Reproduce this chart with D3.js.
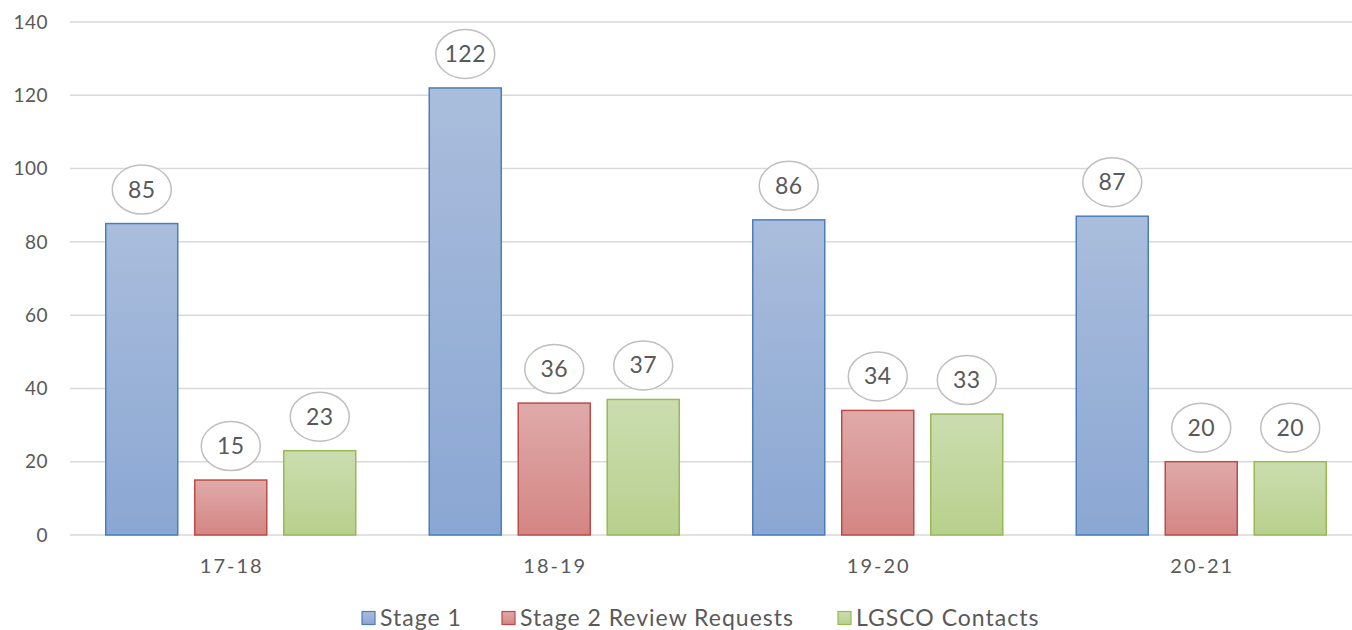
<!DOCTYPE html>
<html>
<head>
<meta charset="utf-8">
<script src="https://cdn.jsdelivr.net/npm/d3@7"></script>
<style>
  body { margin: 0; background: #fff; }
  svg text { font-family: "Lato", "Open Sans", sans-serif; fill: #595959; }
</style>
</head>
<body>
<div id="drawing"></div>
<script>
const width = 1352;
const height = 630;

// data
const categories = ["17-18", "18-19", "19-20", "20-21"];
const seriesNames = ["Stage 1", "Stage 2 Review Requests", "LGSCO Contacts"];
const stage1 = [85, 122, 86, 87];
const stage2 = [15, 36, 34, 20];
const lgsco = [23, 37, 33, 20];
const yTicks = [0, 20, 40, 60, 80, 100, 120, 140];

const seriesValues = [stage1, stage2, lgsco];
const fills = [
  {top: "#aabddc", bottom: "#8aa7d3", stroke: "#4a7ebb"},
  {top: "#dfaaa9", bottom: "#d48684", stroke: "#be4b48"},
  {top: "#cbddb0", bottom: "#b8d08d", stroke: "#98b954"}
];

const svg = d3.select("#drawing").append("svg")
  .attr("width", width)
  .attr("height", height);

const defs = svg.append("defs");
fills.forEach((f, i) => {
  const g = defs.append("linearGradient")
    .attr("id", "grad" + i)
    .attr("x1", 0).attr("y1", 0).attr("x2", 0).attr("y2", 1);
  g.append("stop").attr("offset", "0%").attr("stop-color", f.top);
  g.append("stop").attr("offset", "100%").attr("stop-color", f.bottom);
});

const y = d3.scaleLinear().domain([0, 140]).range([535, 22]);
const x0 = d3.scaleBand().domain(categories).range([69, 1363]);
const x1 = d3.scaleBand().domain(d3.range(3))
  .range([36.75, 286.75]).paddingInner(0.191).paddingOuter(0);

// gridlines
svg.append("g")
  .selectAll("line")
  .data(yTicks)
  .enter()
  .append("line")
    .attr("x1", 70)
    .attr("x2", width)
    .attr("y1", d => y(d))
    .attr("y2", d => y(d))
    .style("stroke", "#d9d9d9")
    .style("stroke-width", 1.5);

// y tick labels
svg.append("g")
  .selectAll("text")
  .data(yTicks)
  .enter()
  .append("text")
    .attr("x", 48)
    .attr("y", d => y(d))
    .attr("dy", "0.35em")
    .attr("text-anchor", "end")
    .style("font-size", "19px")
    .style("letter-spacing", "0.5px")
    .text(d => d);

// x labels
svg.append("g")
  .selectAll("text")
  .data(categories)
  .enter()
  .append("text")
    .attr("x", d => x0(d) + x0.bandwidth() / 2 + 1)
    .attr("y", 566)
    .attr("dy", "0.35em")
    .attr("text-anchor", "middle")
    .style("font-size", "20px")
    .style("letter-spacing", "2px")
    .text(d => d);

// bars and labels
const barData = [];
categories.forEach((c, ci) => {
  seriesValues.forEach((vals, si) => {
    barData.push({cat: c, s: si, v: vals[ci]});
  });
});

const bars = svg.append("g");
bars.selectAll("rect")
  .data(barData)
  .enter()
  .append("rect")
    .attr("x", d => x0(d.cat) + x1(d.s))
    .attr("y", d => y(d.v))
    .attr("width", x1.bandwidth())
    .attr("height", d => y(0) - y(d.v))
    .style("fill", d => "url(#grad" + d.s + ")")
    .style("stroke", d => fills[d.s].stroke)
    .style("stroke-width", 1.5);

const labels = svg.append("g");
labels.selectAll("ellipse")
  .data(barData)
  .enter()
  .append("ellipse")
    .attr("cx", d => x0(d.cat) + x1(d.s) + x1.bandwidth() / 2)
    .attr("cy", d => y(d.v) - 34)
    .attr("rx", 29.5)
    .attr("ry", 24.5)
    .style("fill", "#fff")
    .style("stroke", "#bfbfbf")
    .style("stroke-width", 1.5);

labels.selectAll("text")
  .data(barData)
  .enter()
  .append("text")
    .attr("x", d => x0(d.cat) + x1(d.s) + x1.bandwidth() / 2)
    .attr("y", d => y(d.v) - 34)
    .attr("dy", "0.35em")
    .attr("text-anchor", "middle")
    .style("font-size", "23px")
    .style("letter-spacing", "0.5px")
    .text(d => d.v);

// legend
const legendX = [362, 502, 838];
const legend = svg.append("g");
const items = legend.selectAll("g")
  .data(seriesNames)
  .enter()
  .append("g")
    .attr("transform", (d, i) => `translate(${legendX[i]}, 618)`);
items.append("rect")
  .attr("x", 0)
  .attr("y", -6.5)
  .attr("width", 13)
  .attr("height", 13)
  .style("fill", (d, i) => "url(#grad" + i + ")")
  .style("stroke", (d, i) => fills[i].stroke)
  .style("stroke-width", 1.2);
items.append("text")
  .attr("x", 18)
  .attr("y", 0)
  .attr("dy", "0.35em")
  .style("font-size", "23px")
  .style("letter-spacing", "1px")
  .text(d => d);
</script>
</body>
</html>
